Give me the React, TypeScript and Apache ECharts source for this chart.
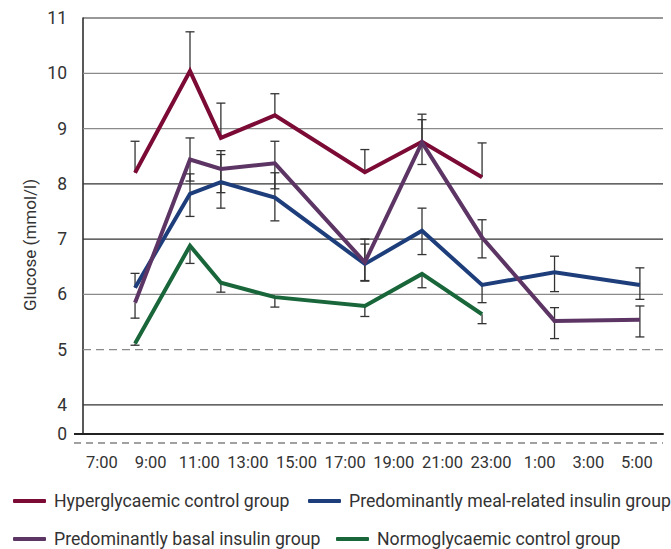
import React, { useEffect, useRef } from "react";
import * as echarts from "echarts";

// ---- data ----
const seriesNames = [
  "Hyperglycaemic control group",
  "Predominantly meal-related insulin group",
  "Predominantly basal insulin group",
  "Normoglycaemic control group",
];
const xTickHours = [7, 9, 11, 13, 15, 17, 19, 21, 23, 25, 27, 29];
const xTickLabels = ["7:00", "9:00", "11:00", "13:00", "15:00", "17:00", "19:00", "21:00", "23:00", "1:00", "3:00", "5:00"];
const yTickValues = [0, 4, 5, 6, 7, 8, 9, 10, 11];
const gridValues = [4, 5, 6, 7, 8, 9, 10, 11];
const sampleHours = [8.36, 10.62, 11.89, 14.11, 17.81, 20.16, 22.63, 25.61, 29.12];

const hyperValues = [8.2, 10.04, 8.83, 9.24, 8.21, 8.76, 8.12];
const hyperLow = [8.2, 10.04, 8.83, 9.24, 8.21, 8.76, 8.12];
const hyperHigh = [8.77, 10.75, 9.46, 9.63, 8.62, 9.26, 8.74];

const mealValues = [6.12, 7.82, 8.03, 7.75, 6.55, 7.15, 6.17, 6.4, 6.17];
const mealLow = [6.12, 7.41, 7.56, 7.33, 6.24, 6.72, 5.85, 6.05, 5.91];
const mealHigh = [6.38, 8.18, 8.53, 8.2, 6.91, 7.56, 6.17, 6.69, 6.48];

const basalValues = [5.85, 8.44, 8.27, 8.37, 6.58, 8.75, 7.03, 5.52, 5.54];
const basalLow = [5.57, 8.05, 7.84, 7.91, 6.25, 8.35, 6.66, 5.2, 5.23];
const basalHigh = [5.85, 8.83, 8.6, 8.77, 7.0, 9.16, 7.35, 5.76, 5.79];

const normoValues = [5.11, 6.88, 6.21, 5.95, 5.79, 6.37, 5.64];
const normoLow = [5.08, 6.56, 6.04, 5.77, 5.6, 6.12, 5.47];
const normoHigh = [5.11, 6.88, 6.21, 5.95, 5.79, 6.37, 5.64];

// ---- styling ----
const colors = ["#7b0a35", "#1e3e7b", "#5d3565", "#19663a"];
const FONT = "Roboto";
const X_MIN = 6.22;
const X_MAX = 30.07;
// broken axis: 0..4 compressed
const BREAK_SCALE = 0.1315;
const toAxis = (v: number) => (v >= 4 ? v : 4 - (4 - v) * BREAK_SCALE);
const gridStyle: Record<number, { color: string; type: any }> = {
  4: { color: "#333", type: "solid" },
  5: { color: "#8a8a8a", type: [8, 5] },
  6: { color: "#8a8a8a", type: "solid" },
  7: { color: "#333", type: "solid" },
  8: { color: "#333", type: "solid" },
  9: { color: "#8a8a8a", type: "solid" },
  10: { color: "#8a8a8a", type: "solid" },
  11: { color: "#333", type: "solid" },
};

const groups = [
  { v: hyperValues, lo: hyperLow, hi: hyperHigh },
  { v: mealValues, lo: mealLow, hi: mealHigh },
  { v: basalValues, lo: basalLow, hi: basalHigh },
  { v: normoValues, lo: normoLow, hi: normoHigh },
];

export default function App() {
  const ref = useRef<HTMLDivElement>(null);
  useEffect(() => {
    if (!ref.current) return;
    const chart = echarts.init(ref.current, undefined, { renderer: "svg" });

    const lineSeries = groups.map((g, i) => ({
      name: seriesNames[i],
      type: "line",
      z: 3,
      data: g.v.map((val, k) => [sampleHours[k], val]),
      symbol: "none",
      color: colors[i],
      lineStyle: { width: 4, color: colors[i], join: "miter", cap: "butt" },
      emphasis: { disabled: true },
      silent: true,
    }));

    const errSeries = groups.map((g, i) => ({
      name: seriesNames[i] + " error",
      type: "custom",
      z: 2,
      silent: true,
      encode: { x: 0, y: [1, 2, 3] },
      data: g.v.map((val, k) => [sampleHours[k], g.lo[k], g.hi[k], val]),
      renderItem: (params: any, api: any) => {
        const x = api.value(0);
        const lo = api.value(1);
        const hi = api.value(2);
        const v = api.value(3);
        const pt = api.coord([x, hi]);
        const pb = api.coord([x, lo]);
        const stroke = "#333";
        const lw = 1.3;
        const hw = 4.5;
        const children: any[] = [
          { type: "line", shape: { x1: pt[0], y1: pt[1], x2: pb[0], y2: pb[1] }, style: { stroke, lineWidth: lw } },
        ];
        if (hi > v) children.push({ type: "line", shape: { x1: pt[0] - hw, y1: pt[1], x2: pt[0] + hw, y2: pt[1] }, style: { stroke, lineWidth: lw } });
        if (lo < v) children.push({ type: "line", shape: { x1: pb[0] - hw, y1: pb[1], x2: pb[0] + hw, y2: pb[1] }, style: { stroke, lineWidth: lw } });
        return { type: "group", children };
      },
    }));

    const gridSeries = {
      name: "grid",
      type: "custom",
      z: 1,
      silent: true,
      encode: { x: 0, y: 1 },
      data: gridValues.map((v) => [X_MIN, v]),
      renderItem: (params: any, api: any) => {
        const v = api.value(1);
        const p = api.coord([api.value(0), v]);
        const cs = params.coordSys;
        const st = gridStyle[v] || { color: "#555", type: "solid" };
        return {
          type: "line",
          shape: { x1: cs.x, y1: p[1], x2: cs.x + cs.width, y2: p[1] },
          style: { stroke: st.color, lineWidth: 1.2, lineDash: Array.isArray(st.type) ? st.type : null },
        };
      },
    };

    const legendBase = {
      icon: "roundRect",
      itemWidth: 33,
      itemHeight: 4,
      itemGap: 0,
      padding: 0,
      selectedMode: false,
      textStyle: { fontFamily: FONT, fontSize: 17.7, color: "#333", padding: [0, 0, 0, 3] },
    };

    const option: any = {
      animation: false,
      backgroundColor: "#fff",
      textStyle: { fontFamily: FONT },
      grid: { left: 83, right: 8, top: 18, bottom: 115, containLabel: false },
      legend: [
        { ...legendBase, data: [seriesNames[0]], left: 13, top: 492 },
        { ...legendBase, data: [seriesNames[1]], left: 308, top: 492 },
        { ...legendBase, data: [seriesNames[2]], left: 13, top: 530 },
        { ...legendBase, data: [seriesNames[3]], left: 336, top: 530 },
      ],
      xAxis: {
        type: "value",
        min: X_MIN,
        max: X_MAX,
        axisLine: { show: true, lineStyle: { color: "#222", width: 2 } },
        axisTick: { show: false },
        splitLine: { show: false },
        axisLabel: {
          customValues: xTickHours,
          formatter: (v: number) => {
            const idx = xTickHours.indexOf(Math.round(v));
            return idx >= 0 ? xTickLabels[idx] : "";
          },
          margin: 20,
          fontFamily: FONT,
          fontSize: 16.5,
          color: "#333",
        },
      },
      yAxis: {
        type: "value",
        min: toAxis(0),
        max: 11,
        axisLine: { show: true, lineStyle: { color: "#222", width: 1.5 } },
        axisTick: { show: true, customValues: [toAxis(0)], length: 9, lineStyle: { color: "#222", width: 2 } },
        splitLine: { show: false },
        axisLabel: {
          customValues: yTickValues.map(toAxis),
          formatter: (val: number) => {
            const t = yTickValues.find((y) => Math.abs(toAxis(y) - val) < 1e-6);
            return t === undefined ? "" : String(t);
          },
          margin: 16,
          fontFamily: FONT,
          fontSize: 17.5,
          color: "#333",
        },
      },
      graphic: [
        {
          type: "text",
          x: 30,
          y: 245,
          rotation: Math.PI / 2,
          style: {
            text: "Glucose (mmol/l)",
            fontFamily: FONT,
            fontSize: 17,
            fill: "#333",
            textAlign: "center",
            textVerticalAlign: "middle",
          },
        },
        {
          type: "line",
          shape: { x1: 74, y1: 443, x2: 663, y2: 443 },
          style: { stroke: "#444", lineWidth: 1.2, lineDash: [7, 5] },
        },
      ],
      series: [gridSeries, ...errSeries, ...lineSeries],
    };
    chart.setOption(option);
    return () => chart.dispose();
  }, []);
  return <div ref={ref} style={{ position: "fixed", left: 0, top: 0, width: 671, height: 549 }} />;
}
